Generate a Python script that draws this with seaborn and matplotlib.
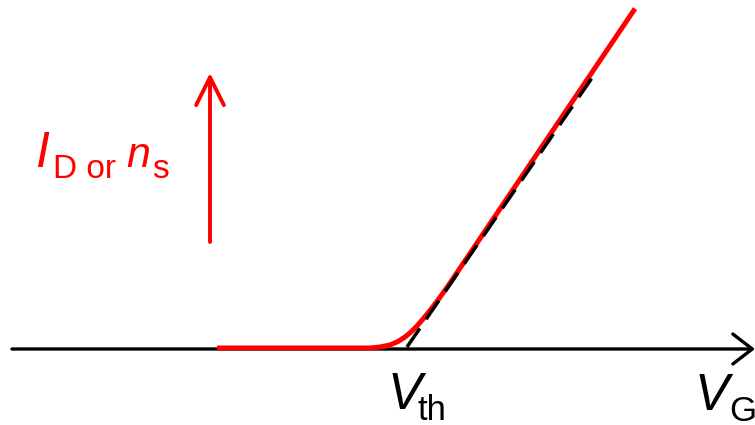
import matplotlib
matplotlib.use("Agg")
import matplotlib.pyplot as plt
import seaborn as sns
import pandas as pd

# ── Curve (gate voltage vs drain current, arb. units) ──
vg = [217, 370, 380, 390, 398, 405, 411, 417, 423, 430, 438, 448, 635]
id_ns = [77, 77, 78, 80, 83.5, 88, 93, 99, 106, 114.5, 125, 139, 416.4]

# linear extrapolation down to threshold
vg_fit = [407, 594]
id_fit = [78, 350]

axis_y = 76          # level of the V_G axis
axis_x = [12, 755]
arrow_x = 210
arrow_y = [183, 352]

RED = "#ff0000"

sns.set_theme(style="white")
plt.rcParams["font.family"] = ["Liberation Sans", "DejaVu Sans"]

fig = plt.figure(figsize=(7.55, 4.25), dpi=100)
ax = fig.add_axes([0, 0, 1, 1])
ax.set_xlim(0, 755)
ax.set_ylim(0, 425)
ax.axis("off")

df = pd.DataFrame({"VG": vg, "ID": id_ns})
sns.lineplot(data=df, x="VG", y="ID", sort=False, color=RED, lw=3.6,
             solid_capstyle="butt", solid_joinstyle="round", ax=ax, zorder=3)

ax.plot(vg_fit, id_fit, color="black", lw=2.5, dashes=(6.5, 3.2), zorder=4)

# V_G axis
ax.annotate("", xy=(axis_x[1], axis_y), xytext=(axis_x[0], axis_y),
            arrowprops=dict(arrowstyle="->,head_length=0.35,head_width=0.27",
                            lw=2.4, color="black", mutation_scale=40,
                            shrinkA=0, shrinkB=0), zorder=2)

# red "increase" arrow
ax.annotate("", xy=(arrow_x, arrow_y[1]), xytext=(arrow_x, arrow_y[0]),
            arrowprops=dict(arrowstyle="->,head_length=0.5,head_width=0.25",
                            lw=2.8, color=RED, mutation_scale=40,
                            shrinkA=0, shrinkB=0))

# labels
ax.text(35, 425 - 167, "I", color=RED, fontsize=36, style="italic", va="baseline")
ax.text(53, 425 - 178, "D or", color=RED, fontsize=24, va="baseline")
ax.text(126, 425 - 167, "n", color=RED, fontsize=31, style="italic", va="baseline")
ax.text(152, 425 - 178, "s", color=RED, fontsize=24, va="baseline")

ax.text(388, 425 - 409, "V", color="black", fontsize=37, style="italic", va="baseline")
ax.text(417, 425 - 420, "th", color="black", fontsize=25, va="baseline")

ax.text(695, 425 - 410, "V", color="black", fontsize=37, style="italic", va="baseline")
ax.text(729, 425 - 421, "G", color="black", fontsize=25, va="baseline")

fig.savefig("out.png", dpi=100)
